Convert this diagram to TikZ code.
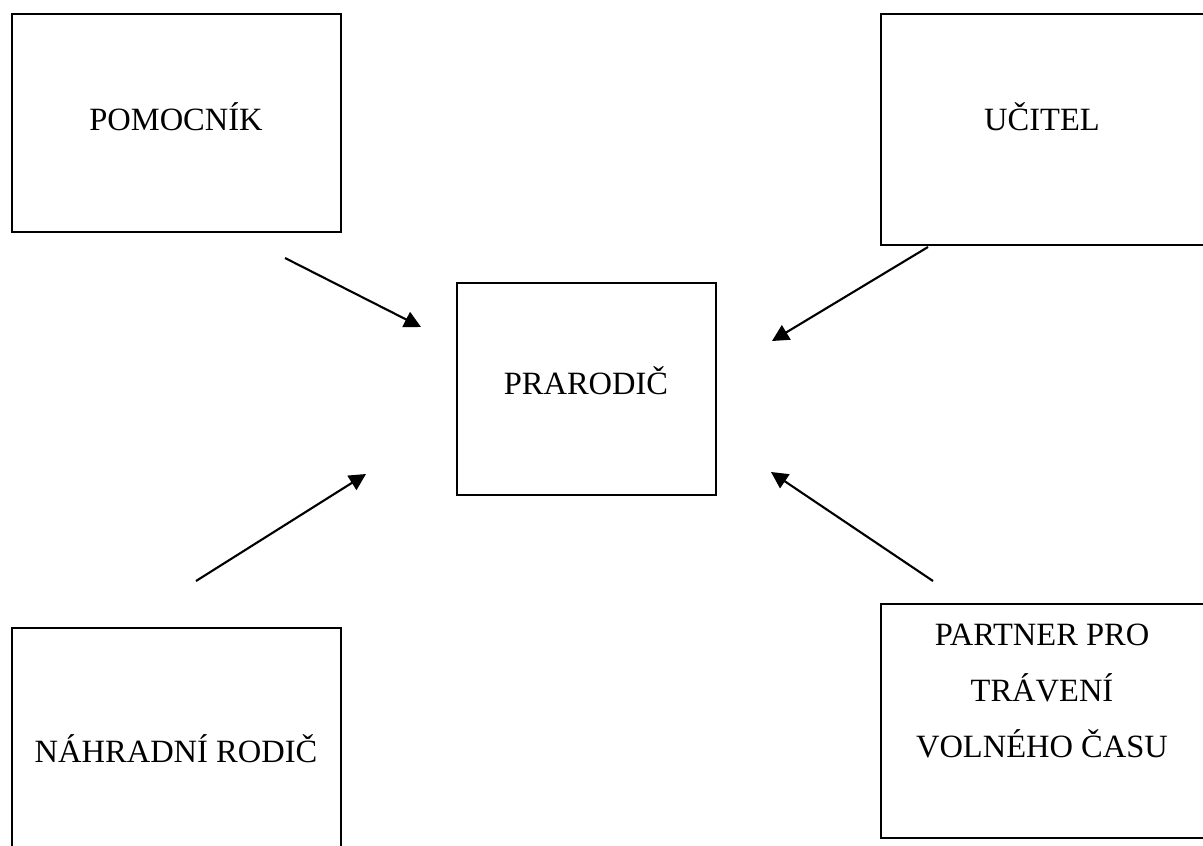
\documentclass[tikz,border=0pt]{standalone}
\usepackage{fontspec}
\setmainfont{Liberation Serif}
\usetikzlibrary{arrows.meta}

\tikzset{
    panel/.style={line width=1.25pt},
    boxtext/.style={anchor=base, inner sep=0pt, font=\fontsize{18.5}{22}\selectfont},
    link/.style={line width=1.2pt, -{Triangle[length=9.5pt, width=9.5pt]}}
}

\begin{document}
\begin{tikzpicture}[x=0.02cm, y=-0.02cm]
    \useasboundingbox (0,0) rectangle (1203,845);

    % boxes
    \draw[panel] (12,14) rectangle (341,232);
    \draw[panel] (881,14) rectangle (1210,245);
    \draw[panel] (457,283) rectangle (716,495);
    \draw[panel] (12,628) rectangle (341,870);
    \draw[panel] (881,604) rectangle (1210,838);

    % texts
    \node[boxtext] (pomocnik) at (176,130) {POMOCNÍK};
    \node[boxtext] (ucitel) at (1042,130) {UČITEL};
    \node[boxtext] (prarodic) at (586,394) {PRARODIČ};
    \node[boxtext] (nahradni) at (176,762) {NÁHRADNÍ RODIČ};
    \node[boxtext] (partner) at (1042,645) {PARTNER PRO};
    \node[boxtext] (traveni) at (1042,701) {TRÁVENÍ};
    \node[boxtext] (volneho) at (1042,757) {VOLNÉHO ČASU};

    % arrows
    \coordinate (a1) at (285,258);
    \coordinate (b1) at (421,327);
    \coordinate (a2) at (928,247);
    \coordinate (b2) at (772,341);
    \coordinate (a3) at (196,581);
    \coordinate (b3) at (366,474);
    \coordinate (a4) at (933,581);
    \coordinate (b4) at (771,472);

    \foreach \i in {1,...,4}
    {\draw[link] (a\i) -- (b\i);}
\end{tikzpicture}
\end{document}
